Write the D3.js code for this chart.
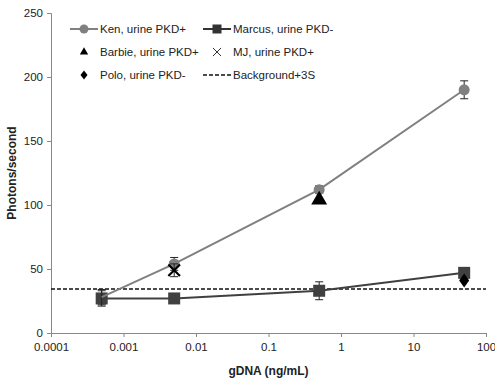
<!DOCTYPE html>
<html>
<head>
<meta charset="utf-8">
<script src="https://cdn.jsdelivr.net/npm/d3@7/dist/d3.min.js"></script>
<style>
  body { margin: 0; background: #fff; }
  svg text { font-family: "Liberation Sans", Arial, sans-serif; fill: #222; }
  .axis path, .axis line { stroke: #888; }
</style>
</head>
<body>
<svg id="chart" width="495" height="383"></svg>
<script>
  // concentrations (ng/mL)
  let doses = [0.0005, 0.005, 0.5, 50];

  let kenY = [28, 54, 112, 190];
  let kenErr = [6, 5, 3, 7];
  let marcusY = [27, 27, 33, 47];
  let marcusErr = [6, 0, 7, 4];

  let barbie = [{x: 0.5, y: 104}];
  let mj = [{x: 0.005, y: 49, e: 5}];
  let polo = [{x: 50, y: 41}];
  let background = 34.4;

  let yTicks = [0, 50, 100, 150, 200, 250];
  let xTicks = [0.0001, 0.001, 0.01, 0.1, 1, 10, 100];
  let xTickLabels = ['0.0001', '0.001', '0.01', '0.1', '1', '10', '100'];

  let svg = d3.select('#chart');
  let margin = {top: 13, right: 9, bottom: 50, left: 51};
  let width = 495 - margin.left - margin.right;
  let height = 383 - margin.top - margin.bottom;

  let g = svg.append('g')
    .attr('transform', 'translate(' + margin.left + ',' + margin.top + ')');

  let x = d3.scaleLog().domain([0.0001, 100]).range([0, width]);
  let y = d3.scaleLinear().domain([0, 250]).range([height, 0]);

  // axes
  let yAxis = g.append('g').attr('class', 'axis')
    .call(d3.axisLeft(y).tickValues(yTicks).tickSize(4).tickPadding(4));
  yAxis.selectAll('text').style('font-size', '11.5px');

  let xAxis = g.append('g').attr('class', 'axis')
    .attr('transform', 'translate(0,' + height + ')')
    .call(d3.axisBottom(x).tickValues(xTicks).tickSize(4).tickPadding(6)
      .tickFormat(function(d, i) { return xTickLabels[i]; }));
  xAxis.selectAll('text').style('font-size', '11.5px');

  g.append('text')
    .attr('transform', 'translate(-35,' + (height / 2) + ') rotate(-90)')
    .attr('text-anchor', 'middle')
    .style('font-size', '12px')
    .style('font-weight', 'bold')
    .text('Photons/second');

  g.append('text')
    .attr('x', width / 2)
    .attr('y', height + 42)
    .attr('text-anchor', 'middle')
    .style('font-size', '12px')
    .style('font-weight', 'bold')
    .text('gDNA (ng/mL)');

  // background line
  g.append('line')
    .attr('x1', 0).attr('x2', width)
    .attr('y1', y(background)).attr('y2', y(background))
    .attr('stroke', '#111').attr('stroke-width', 1.6)
    .attr('stroke-dasharray', '4,2');

  function errBars(xs, ys, es, color) {
    xs.forEach(function(d, i) {
      if (!es[i]) return;
      let cx = x(d);
      g.append('line').attr('x1', cx).attr('x2', cx)
        .attr('y1', y(ys[i] - es[i])).attr('y2', y(ys[i] + es[i]))
        .attr('stroke', color).attr('stroke-width', 1);
      [ys[i] - es[i], ys[i] + es[i]].forEach(function(v) {
        g.append('line').attr('x1', cx - 4).attr('x2', cx + 4)
          .attr('y1', y(v)).attr('y2', y(v))
          .attr('stroke', color).attr('stroke-width', 1);
      });
    });
  }

  let line = d3.line()
    .x(function(d) { return x(d[0]); })
    .y(function(d) { return y(d[1]); });

  // Marcus
  errBars(doses, marcusY, marcusErr, '#222');
  g.append('path')
    .datum(doses.map(function(d, i) { return [d, marcusY[i]]; }))
    .attr('d', line).attr('fill', 'none')
    .attr('stroke', '#404040').attr('stroke-width', 2);
  g.selectAll('.msq').data(doses).enter().append('rect')
    .attr('x', function(d) { return x(d) - 6; })
    .attr('y', function(d, i) { return y(marcusY[i]) - 6; })
    .attr('width', 12).attr('height', 12)
    .attr('fill', '#404040');

  // Ken
  errBars(doses, kenY, kenErr, '#222');
  g.append('path')
    .datum(doses.map(function(d, i) { return [d, kenY[i]]; }))
    .attr('d', line).attr('fill', 'none')
    .attr('stroke', '#808080').attr('stroke-width', 2);
  g.selectAll('.kc').data(doses.slice(1)).enter().append('circle')
    .attr('cx', function(d) { return x(d); })
    .attr('cy', function(d, i) { return y(kenY[i + 1]); })
    .attr('r', 5.5)
    .attr('fill', '#808080');

  // Barbie triangle
  let tri = d3.symbol().type(d3.symbolTriangle).size(110);
  g.selectAll('.bt').data(barbie).enter().append('path')
    .attr('d', tri)
    .attr('transform', function(d) { return 'translate(' + x(d.x) + ',' + y(d.y) + ')'; })
    .attr('fill', '#000');

  // MJ cross
  mj.forEach(function(d) {
    errBars([d.x], [d.y], [d.e], '#222');
  });
  g.selectAll('.mj').data(mj).enter().append('path')
    .attr('d', d3.symbol().type(d3.symbolX).size(90))
    .attr('transform', function(d) { return 'translate(' + x(d.x) + ',' + y(d.y) + ')'; })
    .attr('fill', 'none').attr('stroke', '#000').attr('stroke-width', 2.2);

  // Polo diamond
  g.selectAll('.po').data(polo).enter().append('path')
    .attr('d', 'M0,-7L5,0L0,7L-5,0Z')
    .attr('transform', function(d) { return 'translate(' + x(d.x) + ',' + y(d.y) + ')'; })
    .attr('fill', '#000');

  // legend
  let leg = svg.append('g').style('font-size', '11.5px');
  function legRow(lx, ly, label, draw) {
    let r = leg.append('g').attr('transform', 'translate(' + lx + ',' + ly + ')');
    draw(r);
    r.append('text').attr('x', 30).attr('y', 4).text(label);
  }
  legRow(70, 29, 'Ken, urine PKD+', function(r) {
    r.append('line').attr('x1', 0).attr('x2', 28).attr('stroke', '#808080').attr('stroke-width', 2);
    r.append('circle').attr('cx', 14).attr('r', 4.5).attr('fill', '#808080');
  });
  legRow(203, 29, 'Marcus, urine PKD-', function(r) {
    r.append('line').attr('x1', 0).attr('x2', 28).attr('stroke', '#333').attr('stroke-width', 2);
    r.append('rect').attr('x', 9.5).attr('y', -4.5).attr('width', 9).attr('height', 9).attr('fill', '#333');
  });
  legRow(70, 52, 'Barbie, urine PKD+', function(r) {
    r.append('path').attr('d', d3.symbol().type(d3.symbolTriangle).size(30))
      .attr('transform', 'translate(14,0)').attr('fill', '#000');
  });
  legRow(203, 52, 'MJ, urine PKD+', function(r) {
    r.append('path').attr('d', d3.symbol().type(d3.symbolX).size(45))
      .attr('transform', 'translate(14,0)').attr('fill', 'none').attr('stroke', '#333').attr('stroke-width', 1);
  });
  legRow(70, 75, 'Polo, urine PKD-', function(r) {
    r.append('path').attr('d', 'M0,-4.5L3.5,0L0,4.5L-3.5,0Z')
      .attr('transform', 'translate(14,0)').attr('fill', '#000');
  });
  legRow(203, 75, 'Background+3S', function(r) {
    r.append('line').attr('x1', 0).attr('x2', 28).attr('stroke', '#111').attr('stroke-width', 1.6)
      .attr('stroke-dasharray', '4,2');
  });
</script>
</body>
</html>
